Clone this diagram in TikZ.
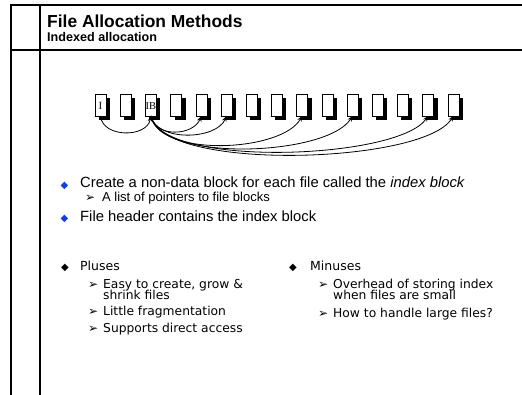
\documentclass[tikz,border=0pt]{standalone}
\usepackage{fontspec}
\setmainfont{Liberation Sans}
\newfontfamily\dejavu{DejaVu Sans}
\newfontfamily\serifblk{Liberation Serif}
\usetikzlibrary{calc,arrows.meta}
\definecolor{bulletblue}{RGB}{20,60,230}
\begin{document}
\begin{tikzpicture}[x=1pt,y=-1pt,
  blk/.style={draw=black, line width=0.6pt, fill=white, minimum width=11pt, minimum height=22pt, inner sep=0pt, outer sep=0pt},
  shadowbox/.style={fill=black},
  ptr/.style={line width=0.8pt, -{Stealth[length=5.5pt,width=4.5pt]}},
  txt/.style={anchor=base west, inner sep=0pt},
  big/.style={txt, font=\fontsize{14.8}{17}\selectfont},
  small/.style={txt, font=\fontsize{13}{15}\selectfont},
  comic/.style={txt, font=\dejavu\fontsize{12.3}{14}\selectfont},
  bul/.style={anchor=base, inner sep=0pt, font=\dejavu\fontsize{10}{10}\selectfont},
  arrbul/.style={anchor=base west, inner sep=0pt, font=\dejavu\fontsize{12}{12}\selectfont},
]
\useasboundingbox (0,0) rectangle (522,395);
% frame
\draw[line width=2pt] (11,395) -- (11,5) -- (522,5);
\draw[line width=1.5pt] (40,5) -- (40,395);
\draw[line width=1.3pt] (11,50) -- (522,50);
% title
\node[txt, font=\bfseries\fontsize{17.4}{20}\selectfont] (title) at (47,27.5) {File Allocation Methods};
\node[txt, font=\bfseries\fontsize{12.6}{15}\selectfont] (subtitle) at (47,41.7) {Indexed allocation};
% blocks with shadows
\foreach \i in {1,...,15}{
  \pgfmathsetmacro{\bx}{100.5+25.2*(\i-1)}
  \fill[shadowbox] ({\bx-5.5+4},{94+4}) rectangle ({\bx+5.5+4},{116+4});
  \node[blk] (b\i) at (\bx,105) {};
}
\node[anchor=base, inner sep=0pt, font=\serifblk\fontsize{11}{12}\selectfont] (lblI) at ($(b1.center)+(0,4.5)$) {I};
\node[anchor=base, inner sep=0pt, font=\serifblk\fontsize{10.5}{12}\selectfont] (lblIB) at ($(b3.center)+(0,4.5)$) {IB};
% pointers
\draw[ptr] (b1.south) .. controls +(2,22) and +(-4,22) .. (b3.south);
\draw[ptr] (b3.south) .. controls +(4,22) and +(-8,20) .. (b5.south);
\draw[ptr] (b3.south) .. controls +(6,26) and +(-10,24) .. (b6.south);
\draw[ptr] (b3.south) .. controls +(8,42) and +(-20,36) .. (b9.south);
\draw[ptr] (b3.south) .. controls +(10,47) and +(-25,40) .. (b11.south);
\draw[ptr] (b3.south) .. controls +(10,52) and +(-30,44) .. (b14.south);
\draw[ptr] (b3.south) .. controls +(10,56) and +(-30,48) .. (b15.south);
% bullets
\node[bul, text=bulletblue] (d1) at (64.5,188.5) {◆};
\node[big] (l1) at (80,188) {Create a non-data block for each file called the \textit{index block}};
\node[arrbul] (a1) at (85,201.5) {➢};
\node[small] (l2) at (102,201.5) {A list of pointers to file blocks};
\node[bul, text=bulletblue] (d2) at (64.5,222) {◆};
\node[big] (l3) at (80,221.7) {File header contains the index block};
% pluses
\node[bul] (d3) at (65,271) {◆};
\node[comic, font=\dejavu\fontsize{12.5}{14}\selectfont] (plus) at (80,271) {Pluses};
\node[arrbul] (a2) at (88,288.5) {➢};
\node[comic] (p1) at (103,288.5) {Easy to create, grow \&};
\node[comic] (p1b) at (103,299.5) {shrink files};
\node[arrbul] (a3) at (88,315.5) {➢};
\node[comic] (p2) at (103,315.5) {Little fragmentation};
\node[arrbul] (a4) at (88,332) {➢};
\node[comic] (p3) at (103,332) {Supports direct access};
% minuses
\node[bul] (d4) at (293,271) {◆};
\node[comic, font=\dejavu\fontsize{12.5}{14}\selectfont] (minus) at (310,271) {Minuses};
\node[arrbul] (a5) at (318,289) {➢};
\node[comic] (m1) at (333,289) {Overhead of storing index};
\node[comic] (m1b) at (333,300) {when files are small};
\node[arrbul] (a6) at (318,317) {➢};
\node[comic] (m2) at (333,317) {How to handle large files?};
\end{tikzpicture}
\end{document}
